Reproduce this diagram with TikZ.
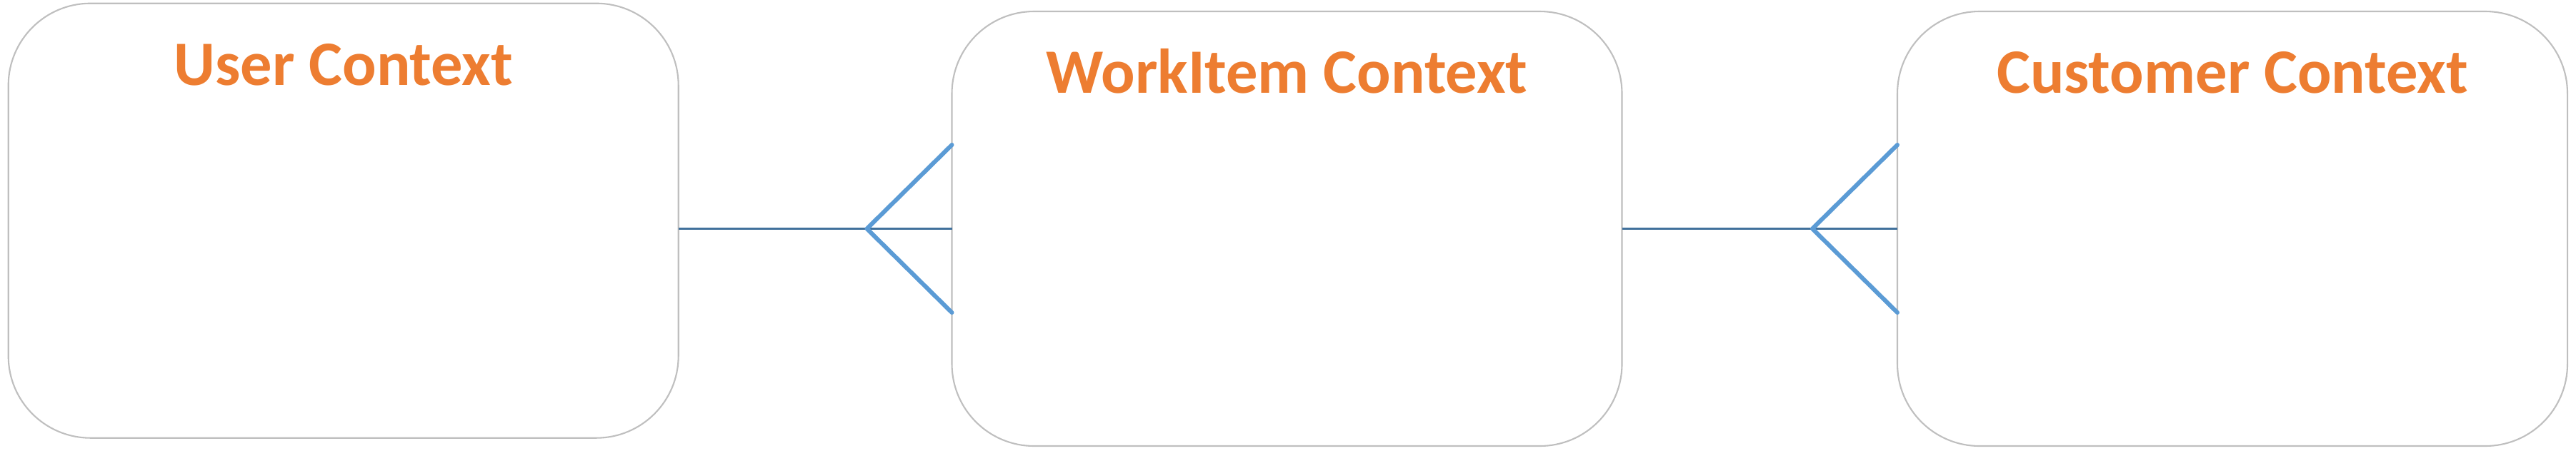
\documentclass[tikz,border=0pt]{standalone}
\usepackage{fontspec}
\setmainfont{Carlito}
\usetikzlibrary{calc}

\definecolor{ctxborder}{HTML}{BFBFBF}
\definecolor{ctxtitle}{HTML}{ED7D31}
\definecolor{ctxline}{HTML}{41719C}
\definecolor{ctxcrow}{HTML}{5B9BD5}

\begin{document}
\begin{tikzpicture}
\useasboundingbox (0,0) rectangle (36.06,6.31);

\def\ctxwidth{9.38cm}
\def\ctxheight{6.09cm}
\def\ctxradius{1.15cm}

\def\crowlength{1.19}
\def\crowspread{1.175}
\def\titledrop{1.145}

\tikzset{
  context/.style={draw=ctxborder, line width=0.6pt, rounded corners=\ctxradius,
    minimum width=\ctxwidth, minimum height=\ctxheight, inner sep=0pt, outer sep=0pt},
  ctxname/.style={text=ctxtitle, font=\bfseries\fontsize{25.2}{30}\selectfont, anchor=base, inner sep=0pt},
  relline/.style={draw=ctxline, line width=0.6pt},
  crowfoot/.style={draw=ctxcrow, line width=1.7pt, line cap=round, line join=round}
}

% boxes
\node[context] (user)     at (4.807,3.218) {};
\node[context] (workitem) at (18.015,3.105) {};
\node[context] (customer) at (31.25,3.105) {};

% titles
\node[ctxname] (usertitle)     at ($(user.north)+(0,-\titledrop)$) {User Context};
\node[ctxname] (workitemtitle) at ($(workitem.north)+(0,-\titledrop)$) {WorkItem Context};
\node[ctxname] (customertitle) at ($(customer.north)+(0,-\titledrop)$) {Customer Context};

% lines
\draw[relline] (user.east |- workitem.west) -- (workitem.west);
\draw[relline] (workitem.east) -- (customer.west);

% crow's feet
\coordinate (f1) at ($(workitem.west)+(-\crowlength,0)$);
\coordinate (f2) at ($(customer.west)+(-\crowlength,0)$);
\draw[crowfoot]
	($(workitem.west)+(0,\crowspread)$)
	-- (f1)
	-- ($(workitem.west)+(0,-\crowspread)$)
;
\draw[crowfoot]
	($(customer.west)+(0,\crowspread)$)
	-- (f2)
	-- ($(customer.west)+(0,-\crowspread)$)
;

\end{tikzpicture}
\end{document}
